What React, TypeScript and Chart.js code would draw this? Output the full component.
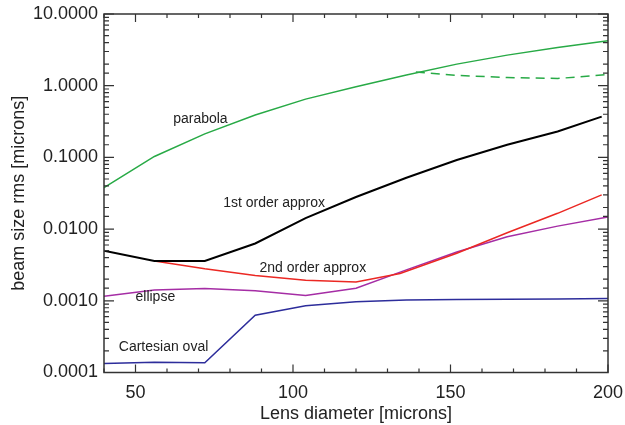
import React, { useEffect, useRef } from "react";
import { Chart, registerables } from "chart.js";

Chart.register(...registerables);

const xParabola = [40, 56, 72, 88, 104, 120, 136, 152, 168, 184, 200];
const yParabola = [0.038, 0.103, 0.213, 0.39, 0.65, 0.97, 1.41, 2.0, 2.67, 3.42, 4.24];

const xParabolaAlt = [139, 152, 168, 184, 200];
const yParabolaAlt = [1.55, 1.39, 1.3, 1.26, 1.43];

const xFirst = [40, 56, 72, 88, 104, 120, 136, 152, 168, 184, 198];
const yFirst = [0.005, 0.0036, 0.0036, 0.0063, 0.0142, 0.028, 0.052, 0.092, 0.15, 0.23, 0.37];

const xSecond = [56, 72, 88, 104, 120, 134, 152, 168, 184, 198];
const ySecond = [0.0036, 0.0028, 0.00226, 0.00193, 0.00183, 0.0024, 0.0046, 0.0089, 0.0166, 0.03];

const xEllipse = [40, 56, 72, 88, 104, 120, 136, 152, 168, 184, 200];
const yEllipse = [0.00116, 0.00141, 0.00149, 0.00138, 0.00119, 0.0015, 0.0027, 0.0048, 0.0078, 0.011, 0.0148];

const xOval = [40, 56, 72, 88, 104, 120, 136, 152, 168, 184, 200];
const yOval = [0.000134, 0.000139, 0.000137, 0.00063, 0.00085, 0.00097, 0.00103, 0.00104, 0.00105, 0.00106, 0.00108];

const labelTexts = ["parabola", "1st order approx", "2nd order approx", "ellipse", "Cartesian oval"];
const labelX = [70.6, 94.0, 106.3, 56.3, 58.9];
const labelY = [0.345, 0.0228, 0.00282, 0.00111, 0.000229];

const xTitle = "Lens diameter [microns]";
const yTitle = "beam size rms [microns]";

const FONT = "'Liberation Sans', Arial, Helvetica, sans-serif";

const zip = (xs: number[], ys: number[]) => xs.map((x, i) => ({ x, y: ys[i] }));

const axesPlugin = {
  id: "inwardAxes",
  afterDatasetsDraw(chart: any) {
    const { ctx, chartArea } = chart;
    const { left, right, top, bottom } = chartArea;
    const xs = chart.scales.x;
    const ys = chart.scales.y;
    ctx.save();
    ctx.strokeStyle = "#333";
    ctx.lineWidth = 1.5;
    ctx.strokeRect(left, top, right - left, bottom - top);
    ctx.lineWidth = 1.2;
    ctx.beginPath();
    xs.ticks.forEach((t: any) => {
      const px = xs.getPixelForValue(t.value);
      const major = t.value % 50 === 0;
      const len = major ? 8 : 4;
      ctx.moveTo(px, bottom);
      ctx.lineTo(px, bottom - len);
      ctx.moveTo(px, top);
      ctx.lineTo(px, top + len);
    });
    ys.ticks.forEach((t: any) => {
      const py = ys.getPixelForValue(t.value);
      const lg = Math.log10(t.value);
      const major = Math.abs(lg - Math.round(lg)) < 1e-6;
      const len = major ? 10 : 5;
      ctx.moveTo(left, py);
      ctx.lineTo(left + len, py);
      ctx.moveTo(right, py);
      ctx.lineTo(right - len, py);
    });
    ctx.stroke();

    ctx.fillStyle = "#222";
    ctx.font = `14px ${FONT}`;
    ctx.textAlign = "center";
    ctx.textBaseline = "middle";
    labelTexts.forEach((txt, i) => {
      ctx.fillText(txt, xs.getPixelForValue(labelX[i]), ys.getPixelForValue(labelY[i]));
    });
    ctx.restore();
  },
};

export default function App() {
  const ref = useRef<HTMLCanvasElement | null>(null);
  useEffect(() => {
    if (!ref.current) return;
    const chart = new Chart(ref.current, {
      type: "line",
      data: {
        datasets: [
          { data: zip(xParabola, yParabola), borderColor: "rgb(40,170,70)", borderWidth: 1.5 },
          { data: zip(xParabolaAlt, yParabolaAlt), borderColor: "rgb(40,170,70)", borderWidth: 1.5, borderDash: [9, 6] },
          { data: zip(xFirst, yFirst), borderColor: "#000", borderWidth: 2 },
          { data: zip(xSecond, ySecond), borderColor: "rgb(235,40,35)", borderWidth: 1.5 },
          { data: zip(xEllipse, yEllipse), borderColor: "rgb(165,45,165)", borderWidth: 1.5 },
          { data: zip(xOval, yOval), borderColor: "rgb(45,45,155)", borderWidth: 1.5 },
        ] as any,
      },
      options: {
        animation: false,
        responsive: false,
        layout: { padding: { top: 14, right: 17, left: 0, bottom: 0 } },
        elements: { point: { radius: 0 }, line: { tension: 0, fill: false } },
        plugins: { legend: { display: false }, tooltip: { enabled: false } },
        scales: {
          x: {
            type: "linear",
            min: 40,
            max: 200,
            grid: { display: false, drawTicks: false, tickLength: 0 },
            border: { display: false },
            ticks: {
              stepSize: 10,
              autoSkip: false,
              maxRotation: 0,
              padding: 10,
              color: "#222",
              font: { family: FONT, size: 18 },
              callback: (v: any) => (Number(v) % 50 === 0 ? String(v) : ""),
            },
            title: {
              display: true,
              text: xTitle,
              color: "#222",
              font: { family: FONT, size: 18 },
              padding: { top: 0, bottom: 0 },
            },
            afterFit: (s: any) => {
              s.height = 52.5;
              s.paddingLeft = 0;
              s.paddingRight = 0;
            },
          },
          y: {
            type: "logarithmic",
            min: 0.0001,
            max: 10,
            grid: { display: false, drawTicks: false, tickLength: 0 },
            border: { display: false },
            ticks: {
              autoSkip: false,
              padding: 6,
              color: "#222",
              font: { family: FONT, size: 18 },
              callback: (v: any) => {
                const lg = Math.log10(Number(v));
                return Math.abs(lg - Math.round(lg)) < 1e-6 ? Number(v).toFixed(4) : "";
              },
            },
            title: {
              display: true,
              text: yTitle,
              color: "#222",
              font: { family: FONT, size: 18 },
              padding: { top: 8, bottom: 0 },
            },
            afterFit: (s: any) => {
              s.width = 104;
              s.paddingTop = 0;
              s.paddingBottom = 0;
            },
          },
        },
      },
      plugins: [axesPlugin],
    });
    return () => chart.destroy();
  }, []);
  return (
    <div style={{ position: "fixed", left: 0, top: 0, width: 625, height: 425, background: "#fff" }}>
      <canvas ref={ref} width={625} height={425} style={{ width: 625, height: 425 }} />
    </div>
  );
}
